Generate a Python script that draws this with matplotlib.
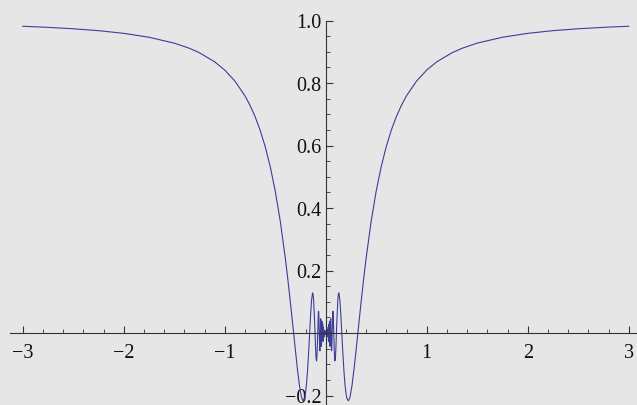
import matplotlib
matplotlib.use("Agg")
import matplotlib.pyplot as plt
from matplotlib.ticker import FixedLocator, FixedFormatter

# Curve (right half; the curve is mirror-symmetric about x = 0)
x_right = [0.0, 0.005, 0.0075, 0.01, 0.0125, 0.015, 0.0175, 0.02, 0.0225, 0.025,
           0.0275, 0.03, 0.0325, 0.035, 0.0375, 0.04, 0.0425, 0.045, 0.0475, 0.05,
           0.0525, 0.055, 0.0575, 0.06, 0.0625, 0.065, 0.0675, 0.07, 0.0725, 0.075,
           0.0775, 0.08, 0.0825, 0.085, 0.09, 0.095, 0.1,
           0.11, 0.12, 0.125, 0.13, 0.14, 0.15, 0.16, 0.17, 0.18, 0.19, 0.2,
           0.21, 0.225, 0.24, 0.26, 0.28, 0.3, 0.325, 0.35, 0.375, 0.4, 0.45,
           0.5, 0.55, 0.6, 0.65, 0.7, 0.75, 0.8, 0.9, 1.0, 1.1, 1.25, 1.35,
           1.5, 1.75, 2.0, 2.25, 2.5, 2.75, 3.0]
y_right = [0.0, -0.0044, 0.0074, -0.0051, -0.0124, -0.0096, 0.0098, -0.0052, 0.0100, 0.0186,
           -0.0267, 0.0282, -0.0196, -0.0102, 0.0375, -0.0053, -0.0425, 0.0103, 0.0383, 0.0456,
           0.0103, -0.0341, -0.0572, -0.0502, -0.0180, 0.0194, 0.0525, 0.0695, 0.0683, 0.0507,
           0.0256, -0.0053, -0.0355, -0.0608, -0.0895, -0.0835, -0.0544,
           0.0366, 0.1068, 0.1237, 0.1284,
           0.1058, 0.0561, -0.0053, -0.0663, -0.1199, -0.1620, -0.1918, -0.2098,
           -0.2170, -0.2061, -0.1683, -0.1164, -0.0571, 0.0210, 0.0984, 0.1715,
           0.2394, 0.3578, 0.4546, 0.5332, 0.5972, 0.6497, 0.6930, 0.7289,
           0.7592, 0.8064, 0.8415, 0.8679, 0.8967, 0.9111, 0.9276, 0.9464,
           0.9589, 0.9675, 0.9735, 0.9781, 0.9816]

x_major = [-3, -2, -1, 1, 2, 3]
x_labels = ["\u22123", "\u22122", "\u22121", "1", "2", "3"]
y_major = [-0.2, 0.2, 0.4, 0.6, 0.8, 1.0]
y_labels = ["\u22120.2", "0.2", "0.4", "0.6", "0.8", "1.0"]
x_minor = [round(-3.0 + 0.2 * i, 2) for i in range(31)]
y_minor = [round(-0.2 + 0.05 * i, 2) for i in range(25)]

xs = [-v for v in x_right[::-1]] + x_right[1:]
ys = y_right[::-1] + y_right[1:]

plt.rcParams['font.family'] = ['Liberation Serif', 'DejaVu Serif']

fig = plt.figure(figsize=(6.37, 4.06), dpi=100)
bg = '#e6e6e6'
fig.patch.set_facecolor(bg)
ax = fig.add_axes([0, 0, 1, 1])
ax.set_facecolor(bg)

ax.plot(xs, ys, color='#3d3d99', lw=0.8)

ax.set_xlim(-3.225, 3.082)
ax.set_ylim(-0.2304, 1.0688)

for s in ['top', 'right']:
    ax.spines[s].set_visible(False)
ax.spines['left'].set_position(('data', 0))
ax.spines['bottom'].set_position(('data', 0))
ax.spines['left'].set_bounds(-0.2304, 1.0)
ax.spines['bottom'].set_bounds(-3.126, 3.082)
for s in ['left', 'bottom']:
    ax.spines[s].set_color('#333333')
    ax.spines[s].set_linewidth(0.8)

ax.xaxis.set_major_locator(FixedLocator(x_major))
ax.xaxis.set_major_formatter(FixedFormatter(x_labels))
ax.xaxis.set_minor_locator(FixedLocator([v for v in x_minor if v not in x_major]))
ax.yaxis.set_major_locator(FixedLocator(y_major))
ax.yaxis.set_major_formatter(FixedFormatter(y_labels))
ax.yaxis.set_minor_locator(FixedLocator([v for v in y_minor if v not in y_major]))

ax.tick_params(axis='x', which='major', direction='in', length=5, width=0.8,
               color='#333333', labelsize=14.5, pad=7.5, labelcolor='#111111')
ax.tick_params(axis='x', which='minor', direction='in', length=3, width=0.6, color='#333333')
ax.tick_params(axis='y', which='major', direction='in', length=5, width=0.8,
               color='#333333', labelsize=14.5, pad=3, labelcolor='#111111')
ax.tick_params(axis='y', which='minor', direction='in', length=3, width=0.6, color='#333333')
for lab in ax.get_xticklabels() + ax.get_yticklabels():
    lab.set_fontfamily(['Liberation Serif', 'DejaVu Serif'])

fig.savefig('out.png', dpi=100, facecolor=bg)
